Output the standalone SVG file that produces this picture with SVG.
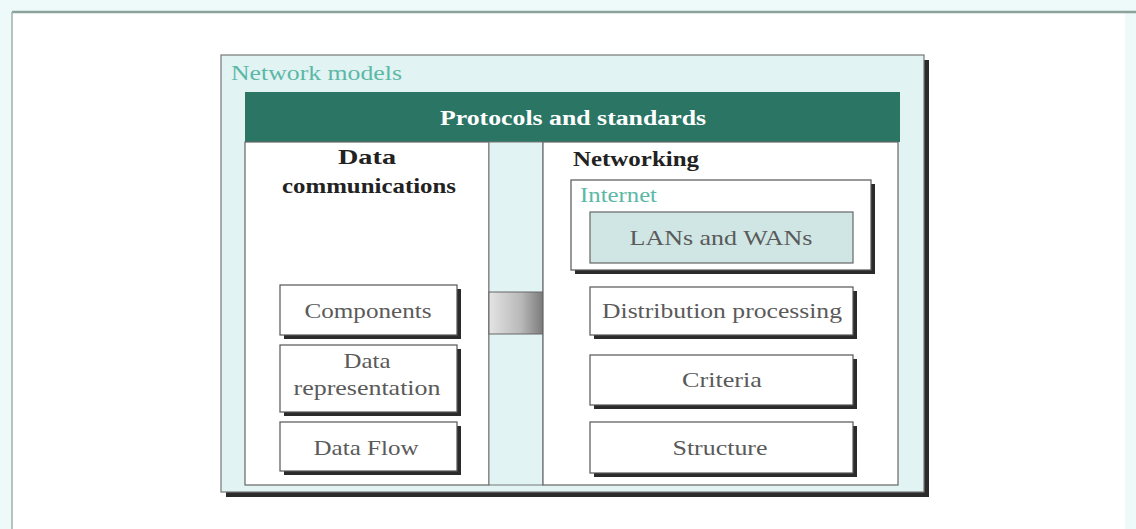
<svg xmlns="http://www.w3.org/2000/svg" width="1136" height="529" viewBox="0 0 1136 529">
<defs>
<linearGradient id="grad" x1="0" y1="0" x2="1" y2="0">
<stop offset="0" stop-color="#e4e4e4"/>
<stop offset="0.6" stop-color="#b8b8b8"/>
<stop offset="1" stop-color="#7a7a7a"/>
</linearGradient>
</defs>
<style>
.sh{fill:#2b2b2b}
.box{fill:#ffffff;stroke:#555;stroke-width:1.2}
.lbl{font-family:"Liberation Serif",serif;font-size:22px;fill:#5a5a5a;text-anchor:middle}
.bold{font-family:"Liberation Serif",serif;font-size:21px;font-weight:bold;fill:#222}
.teal{font-family:"Liberation Serif",serif;font-size:21px;fill:#5cb8a6}
</style>
<rect x="0" y="0" width="1136" height="529" fill="#eefaf9"/>
<rect x="12" y="12" width="1113" height="517" fill="#ffffff"/>
<line x1="12" y1="12" x2="1136" y2="12" stroke="#8aa39b" stroke-width="2.5"/>
<line x1="12" y1="12" x2="12" y2="529" stroke="#9bb0aa" stroke-width="1.5"/>

<g id="network-models">
<rect x="226" y="60" width="703" height="437" class="sh"/>
<rect x="221" y="55" width="703" height="437" fill="#e2f3f3" stroke="#777" stroke-width="1.2"/>
<text x="231" y="80" class="teal" textLength="171" lengthAdjust="spacingAndGlyphs">Network models</text>
</g>

<g id="protocols">
<rect x="245" y="92" width="655" height="50" fill="#2b7565"/>
<text x="573" y="125" font-family="Liberation Serif,serif" font-size="20" font-weight="bold" fill="#ffffff" text-anchor="middle" textLength="266" lengthAdjust="spacingAndGlyphs">Protocols and standards</text>
</g>

<g id="data-communications">
<rect x="245" y="142" width="244" height="343" fill="#ffffff" stroke="#666" stroke-width="1.2"/>
<text x="367" y="164" class="bold" text-anchor="middle" textLength="58" lengthAdjust="spacingAndGlyphs">Data</text>
<text x="369" y="193" class="bold" text-anchor="middle" textLength="174" lengthAdjust="spacingAndGlyphs">communications</text>
</g>

<g id="middle">
<rect x="489" y="142" width="54" height="343" fill="#e2f3f3" stroke="#777" stroke-width="1"/>
<rect x="489" y="292" width="54" height="42" fill="url(#grad)" stroke="#666" stroke-width="1"/>
</g>

<g id="networking">
<rect x="543" y="142" width="355" height="343" fill="#ffffff" stroke="#666" stroke-width="1.2"/>
<text x="573" y="166" class="bold" textLength="126" lengthAdjust="spacingAndGlyphs">Networking</text>
</g>

<g id="internet">
<rect x="575" y="184" width="300" height="90" class="sh"/>
<rect x="571" y="180" width="300" height="90" class="box"/>
<text x="580" y="202" class="teal" textLength="77" lengthAdjust="spacingAndGlyphs">Internet</text>
</g>

<g id="lans-wans">
<rect x="590" y="212" width="263" height="51" fill="#cfe6e4" stroke="#666" stroke-width="1.2"/>
<text x="721" y="245" class="lbl" textLength="183" lengthAdjust="spacingAndGlyphs">LANs and WANs</text>
</g>

<g id="components">
<rect x="284" y="289" width="177" height="50" class="sh"/>
<rect x="280" y="285" width="177" height="50" class="box"/>
<text x="368" y="318" class="lbl" textLength="127" lengthAdjust="spacingAndGlyphs">Components</text>
</g>

<g id="data-representation">
<rect x="284" y="349" width="177" height="67" class="sh"/>
<rect x="280" y="345" width="177" height="67" class="box"/>
<text x="367" y="368" class="lbl" textLength="47" lengthAdjust="spacingAndGlyphs">Data</text>
<text x="367" y="395" class="lbl" textLength="147" lengthAdjust="spacingAndGlyphs">representation</text>
</g>

<g id="data-flow">
<rect x="284" y="426" width="177" height="49" class="sh"/>
<rect x="280" y="422" width="177" height="49" class="box"/>
<text x="366" y="455" class="lbl" textLength="105" lengthAdjust="spacingAndGlyphs">Data Flow</text>
</g>

<g id="distribution">
<rect x="594" y="291" width="263" height="48" class="sh"/>
<rect x="590" y="287" width="263" height="48" class="box"/>
<text x="722" y="318" class="lbl" textLength="240" lengthAdjust="spacingAndGlyphs">Distribution processing</text>
</g>

<g id="criteria">
<rect x="594" y="359" width="263" height="50" class="sh"/>
<rect x="590" y="355" width="263" height="50" class="box"/>
<text x="722" y="387" class="lbl" textLength="80" lengthAdjust="spacingAndGlyphs">Criteria</text>
</g>

<g id="structure">
<rect x="594" y="426" width="263" height="51" class="sh"/>
<rect x="590" y="422" width="263" height="51" class="box"/>
<text x="720" y="455" class="lbl" textLength="95" lengthAdjust="spacingAndGlyphs">Structure</text>
</g>

<g id="connectors"></g>
</svg>
